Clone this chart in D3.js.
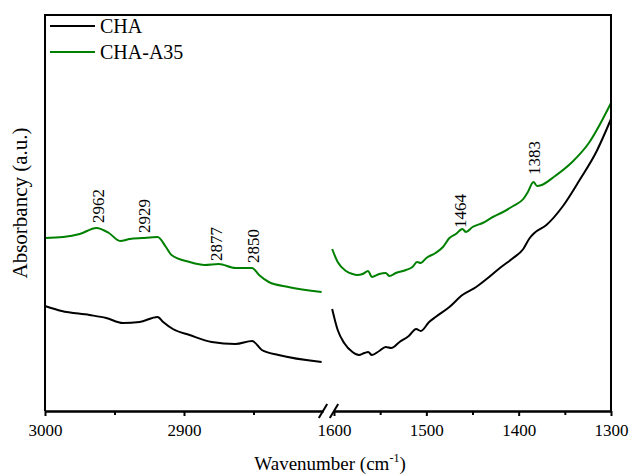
<!DOCTYPE html>
<html lang="en">
  <head>
    <meta charset="UTF-8" />
    <title>FTIR</title>
    <script src="https://cdn.jsdelivr.net/npm/d3@7"></script>
    <style>
      body { margin: 0; background: #fff; }
      text { font-family: "Liberation Serif", "Times New Roman", serif; }
    </style>
  </head>
  <body>
    <svg id="svgCanvas" width="630" height="476"></svg>
    <script>
      // high wavenumber part (3000-2800 cm-1)
      var hiWaveA35 = [3000, 2987, 2975, 2963, 2954, 2946, 2939, 2930, 2919, 2913, 2909, 2896, 2885, 2875, 2863, 2851, 2846, 2839, 2825, 2801];
      var hiA35 = [1.73, 1.74, 1.77, 1.83, 1.78, 1.70, 1.72, 1.73, 1.74, 1.64, 1.56, 1.49, 1.46, 1.47, 1.43, 1.43, 1.36, 1.29, 1.24, 1.19];
      var hiWaveCHA = [3000, 2988, 2968, 2956, 2944, 2932, 2919, 2915, 2908, 2896, 2880, 2863, 2851, 2844, 2832, 2801];
      var hiCHA = [1.05, 1.00, 0.96, 0.93, 0.88, 0.89, 0.94, 0.89, 0.82, 0.76, 0.69, 0.67, 0.70, 0.61, 0.56, 0.49];

      // low wavenumber part (1600-1300 cm-1)
      var loWaveA35 = [1602, 1596, 1587, 1580, 1575, 1569, 1563, 1559, 1551, 1544, 1540, 1533, 1522, 1515, 1510, 1506, 1500, 1490, 1482, 1475, 1468, 1461, 1457, 1450, 1439, 1428, 1419, 1406, 1395, 1390, 1384, 1380, 1375, 1362, 1342, 1324, 1300];
      var loA35 = [1.62, 1.49, 1.40, 1.37, 1.36, 1.37, 1.40, 1.34, 1.37, 1.38, 1.35, 1.38, 1.41, 1.44, 1.49, 1.48, 1.53, 1.58, 1.64, 1.73, 1.77, 1.82, 1.79, 1.84, 1.88, 1.94, 1.98, 2.05, 2.12, 2.19, 2.29, 2.25, 2.26, 2.34, 2.49, 2.68, 3.08];
      var loWaveCHA = [1602, 1596, 1589, 1580, 1573, 1567, 1563, 1559, 1551, 1544, 1538, 1529, 1519, 1511, 1506, 1497, 1490, 1475, 1461, 1446, 1432, 1419, 1406, 1395, 1388, 1383, 1370, 1352, 1334, 1316, 1300];
      var loCHA = [1.02, 0.81, 0.68, 0.59, 0.56, 0.58, 0.59, 0.56, 0.60, 0.64, 0.63, 0.69, 0.75, 0.82, 0.80, 0.89, 0.94, 1.04, 1.16, 1.24, 1.34, 1.44, 1.53, 1.62, 1.73, 1.78, 1.86, 2.05, 2.31, 2.59, 2.92];

      // peak labels: wavenumber and height of the label foot
      var peakWave = [2962, 2929, 2877, 2850, 1464, 1383];
      var peakY = [1.88, 1.78, 1.50, 1.48, 1.83, 2.36];

      var seriesNames = ["CHA", "CHA-A35"];
      var seriesColors = ["#000000", "#008000"];

      var hiTicks = [3000, 2900], hiMinor = [2950, 2850];
      var loTicks = [1600, 1500, 1400, 1300], loMinor = [1550, 1450, 1350];

      var canvas = d3.select("#svgCanvas");
      var mLeft = 45, mRight = 611, mTop = 15, mBottom = 411;

      // two x scales for the broken axis
      var xHi = d3.scaleLinear().domain([3000, 2800]).range([mLeft, 323]);
      var xLo = d3.scaleLinear().domain([1600, 1300]).range([334, mRight]);
      var y = d3.scaleLinear().domain([0, 3.96]).range([mBottom, mTop]);

      function xOf(w) {
        return w > 2000 ? xHi(w) : xLo(w);
      }

      var line = d3
        .line()
        .x(function(d) { return xOf(d[0]); })
        .y(function(d) { return y(d[1]); })
        .curve(d3.curveMonotoneX);

      function drawPart(waves, vals, color) {
        canvas
          .append("path")
          .attr("d", line(d3.zip(waves, vals)))
          .attr("fill", "none")
          .attr("stroke", color)
          .attr("stroke-width", 2)
          .attr("stroke-linejoin", "round");
      }
      drawPart(hiWaveCHA, hiCHA, seriesColors[0]);
      drawPart(loWaveCHA, loCHA, seriesColors[0]);
      drawPart(hiWaveA35, hiA35, seriesColors[1]);
      drawPart(loWaveA35, loA35, seriesColors[1]);

      // x axes
      function addAxis(scale, ticks, size, labels) {
        var g = canvas
          .append("g")
          .attr("transform", "translate(0," + mBottom + ")")
          .call(
            d3.axisBottom(scale)
              .tickValues(ticks)
              .tickSize(size)
              .tickSizeOuter(0)
              .tickPadding(8)
              .tickFormat(labels ? d3.format("d") : "")
          );
        g.attr("font-size", 17).attr("font-family", null);
        g.select(".domain").attr("stroke-width", 2);
        g.selectAll(".tick line").attr("stroke-width", 2);
        g.selectAll(".tick text").attr("fill", "#000");
        return g;
      }
      addAxis(xHi, hiTicks, 5, true);
      addAxis(xHi, hiMinor, 4, false);
      addAxis(xLo, loTicks, 5, true);
      addAxis(xLo, loMinor, 4, false);

      // break marks
      [xHi.range()[1], xLo.range()[0]].forEach(function(cx) {
        canvas
          .append("line")
          .attr("x1", cx - 4.2)
          .attr("y1", mBottom + 7)
          .attr("x2", cx + 4.2)
          .attr("y2", mBottom - 7)
          .attr("stroke", "#000")
          .attr("stroke-width", 2);
      });

      // frame: left, top, right
      canvas
        .append("path")
        .attr("d", "M" + mLeft + "," + mBottom + "V" + mTop + "H" + mRight + "V" + mBottom)
        .attr("fill", "none")
        .attr("stroke", "#000")
        .attr("stroke-width", 2);

      // peak labels
      canvas
        .selectAll("text.peak")
        .data(d3.zip(peakWave, peakY))
        .enter()
        .append("text")
        .attr("class", "peak")
        .attr("transform", function(d) {
          return "translate(" + xOf(d[0]) + "," + y(d[1]) + ") rotate(-90)";
        })
        .attr("dy", "0.35em")
        .attr("font-size", 17)
        .text(function(d) { return d[0]; });

      // axis titles
      var xt = canvas
        .append("text")
        .attr("x", 330)
        .attr("y", 470)
        .attr("text-anchor", "middle")
        .attr("font-size", 19);
      xt.append("tspan").text("Wavenumber (cm");
      xt.append("tspan").attr("font-size", 12).attr("dy", -8).text("-1");
      xt.append("tspan").attr("dy", 8).text(")");

      canvas
        .append("text")
        .attr("transform", "translate(27,203) rotate(-90)")
        .attr("text-anchor", "middle")
        .attr("font-size", 21)
        .text("Absorbancy (a.u.)");

      // legend
      seriesNames.forEach(function(name, i) {
        var ly = 26 + i * 26;
        canvas
          .append("line")
          .attr("x1", 50)
          .attr("x2", 95)
          .attr("y1", ly)
          .attr("y2", ly)
          .attr("stroke", seriesColors[i])
          .attr("stroke-width", 2);
        canvas
          .append("text")
          .attr("x", 100)
          .attr("y", ly + 7)
          .attr("font-size", 20)
          .text(name);
      });
    </script>
  </body>
</html>
